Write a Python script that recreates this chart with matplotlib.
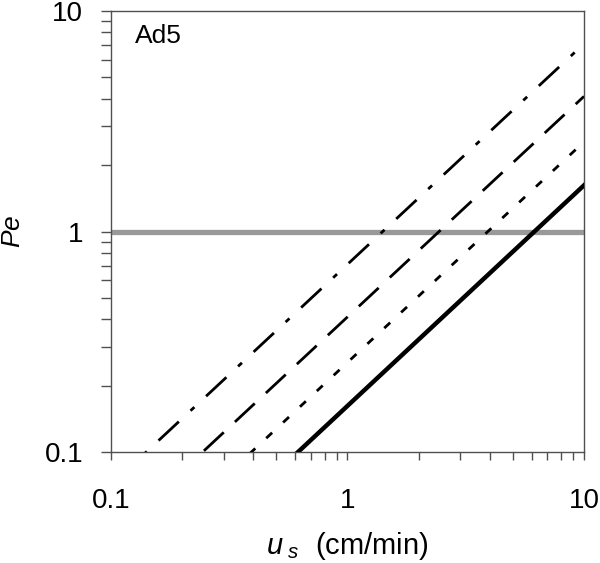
import numpy as np
import matplotlib
matplotlib.use("Agg")
import matplotlib.pyplot as plt
from matplotlib.ticker import LogLocator, FixedLocator, FixedFormatter, NullFormatter

plt.rcParams["font.family"] = ["Liberation Sans", "DejaVu Sans"]
plt.rcParams["mathtext.fontset"] = "custom"
plt.rcParams["mathtext.rm"] = "Liberation Sans"
plt.rcParams["mathtext.it"] = "Liberation Sans:italic"
plt.rcParams["lines.scale_dashes"] = False

# Data: Pe is linear in u_s, so each line is given by its two end values
us = [0.1, 10]
pe_dashdot = [0.071, 7.1]
pe_longdash = [0.041, 4.1]
pe_shortdash = [0.0255, 2.55]
pe_solid = [0.0162, 1.62]
pe_ref = 1.0

xticks = [0.1, 1, 10]
xticklabels = ["0.1", "1", "10"]
yticks = [0.1, 1, 10]
yticklabels = ["0.1", "1", "10"]

fig = plt.figure(figsize=(6, 5.63), dpi=100)
ax = fig.add_axes([0.185, 0.197, 0.7883, 0.7835])

ax.axhline(pe_ref, color="#999999", lw=3.8, zorder=1)

ax.plot(us, pe_dashdot, color="black", lw=2.0, dashes=(20, 11.5, 3.8, 11.5), zorder=3)
ax.plot(us, pe_longdash, color="black", lw=2.0, dashes=(19.5, 11), zorder=3)
ax.plot(us, pe_shortdash, color="black", lw=2.0, dashes=(5.8, 10.8), zorder=3)
ax.plot(us, pe_solid, color="black", lw=3.2, zorder=3)

ax.set_xscale("log")
ax.set_yscale("log")
ax.set_xlim(0.1, 10)
ax.set_ylim(0.1, 10)

frame_c = "#505050"
for s in ["top", "right", "left", "bottom"]:
    ax.spines[s].set_color(frame_c)
    ax.spines[s].set_linewidth(1.0)

ax.xaxis.set_major_locator(FixedLocator(xticks))
ax.xaxis.set_major_formatter(FixedFormatter(xticklabels))
ax.yaxis.set_major_locator(FixedLocator(yticks))
ax.yaxis.set_major_formatter(FixedFormatter(yticklabels))
ax.xaxis.set_minor_locator(LogLocator(base=10, subs=np.arange(2, 10)))
ax.yaxis.set_minor_locator(LogLocator(base=10, subs=np.arange(2, 10)))
ax.xaxis.set_minor_formatter(NullFormatter())
ax.yaxis.set_minor_formatter(NullFormatter())

ax.tick_params(axis="x", which="both", direction="out", length=6, width=1.0,
               color=frame_c, labelsize=20, pad=20)
ax.tick_params(axis="y", which="both", direction="out", length=7, width=1.0,
               color=frame_c, labelsize=20, pad=13)

ax.set_xlabel(r"$\mathit{u}_{\ \mathit{s}}$  (cm/min)", fontsize=21)
ax.xaxis.set_label_coords(0.5, -0.176)
ax.set_ylabel(r"$\mathit{Pe}$", fontsize=19, labelpad=14)

ax.text(0.051, 0.944, "Ad5", transform=ax.transAxes, fontsize=19,
        ha="left", va="center")

fig.savefig("out.png", dpi=100)
